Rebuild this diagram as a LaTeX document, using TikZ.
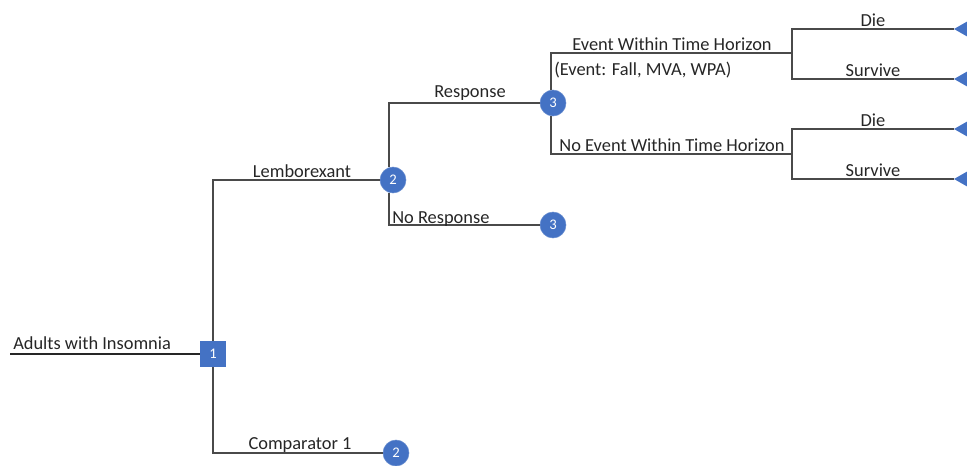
\documentclass[tikz,border=0pt]{standalone}
\usepackage{fontspec}
\setmainfont{Carlito}
\usetikzlibrary{calc}
\definecolor{nodeblue}{HTML}{4472C4}
\definecolor{linegray}{HTML}{4A4A4A}
\definecolor{txtgray}{HTML}{262626}
\begin{document}
\begin{tikzpicture}[x=0.75pt,y=-0.75pt,
  branch/.style={draw=linegray,line width=1.1pt},
  rootline/.style={draw=black!85,line width=2.2pt},
  chance/.style={circle,fill=nodeblue,draw=nodeblue!80!white,line width=0.4pt,minimum size=19.5pt,inner sep=0pt,text=white,font=\fontsize{11}{13}\selectfont},
  decision/.style={rectangle,fill=nodeblue,minimum size=19.5pt,inner sep=0pt,text=white,font=\fontsize{11}{13}\selectfont},
  lbl/.style={inner sep=1.5pt,text=txtgray,font=\fontsize{13.8}{16}\selectfont},
  term/.style={fill=nodeblue}
]
\useasboundingbox (0,0) rectangle (967,465);
\clip (0,0) rectangle (967,465);
% nodes
\node[decision] (n1) at (213,354) {1};
\node[chance] (c2a) at (393,180) {2};
\node[chance] (c2b) at (396,453) {2};
\node[chance] (c3a) at (553,103) {3};
\node[chance] (c3b) at (553,225) {3};
\coordinate (root) at (10,354);
\coordinate (j1) at (792,53);
\coordinate (j2) at (792,154);
\coordinate (t1) at (954,29);
\coordinate (t2) at (954,79);
\coordinate (t3) at (954,129);
\coordinate (t4) at (954,179);
% connectors
\draw[rootline] (root) -- (n1.west);
\draw[branch] (n1.north) |- (c2a.west);
\draw[branch] (n1.south) |- (c2b.west);
\draw[branch] ([xshift=-3pt]c2a.north) |- (c3a.west);
\draw[branch] ([xshift=-3pt]c2a.south) |- (c3b.west);
\draw[branch] ([xshift=-1.5pt]c3a.north) |- (j1);
\draw[branch] ([xshift=-1.5pt]c3a.south) |- (j2);
\draw[branch] (t1) -| (j1) |- (t2);
\draw[branch] (t3) -| (j2) |- (t4);
% terminal triangles
\foreach \t in {t1,t2,t3,t4}{
  \fill[term] (\t) -- ++(14,-8) -- ++(0,16) -- cycle;
}
% labels
\node[lbl,anchor=south west] (l0) at (11,352) {Adults with Insomnia};
\node[lbl,anchor=south] (l1) at (302,180) {Lemborexant};
\node[lbl,anchor=south] (l2) at (300,455) {Comparator 1};
\node[lbl,anchor=south] (l3) at (470,103) {Response};
\node[lbl,anchor=south west] (l4) at (390,229) {No Response};
\node[lbl,anchor=south] (l5) at (672,53) {Event Within Time Horizon};
\node[lbl,anchor=west] (l6) at (552,70) {(Event: Fall, MVA, WPA)};
\node[lbl,anchor=south] (l7) at (672,154) {No Event Within Time Horizon};
\node[lbl,anchor=south] (l8) at (873,29) {Die};
\node[lbl,anchor=south] (l9) at (873,79) {Survive};
\node[lbl,anchor=south] (l10) at (873,129) {Die};
\node[lbl,anchor=south] (l11) at (873,179) {Survive};
\end{tikzpicture}
\end{document}
